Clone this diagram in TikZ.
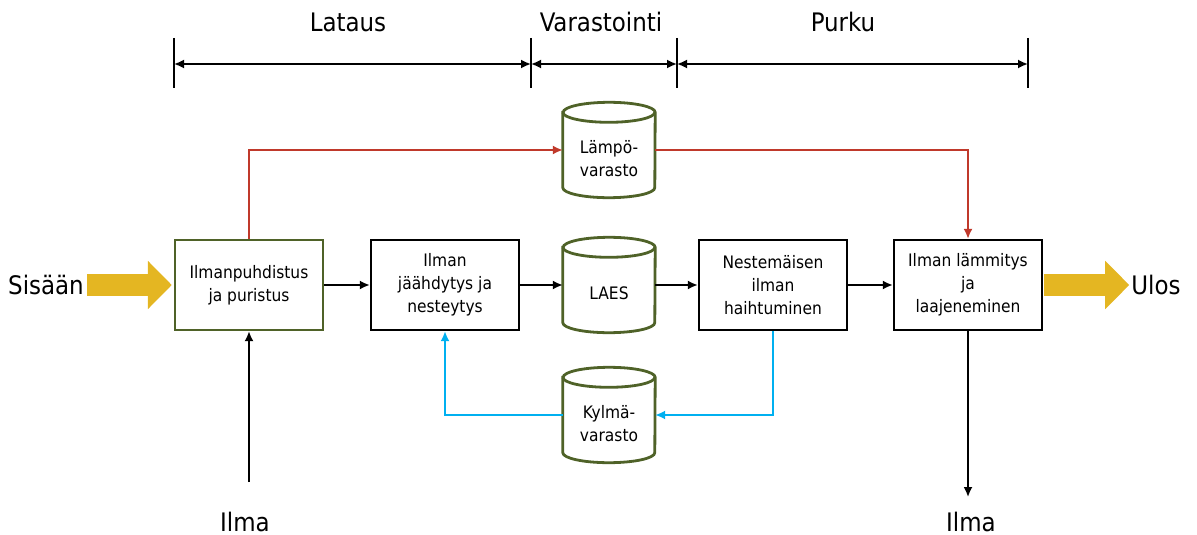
\documentclass[tikz,border=0pt]{standalone}
\usepackage{fontspec}
\setmainfont{DejaVu Sans Condensed}
\usetikzlibrary{arrows.meta,positioning,calc}
\definecolor{olivegreen}{HTML}{4F6228}
\definecolor{redline}{HTML}{C0392B}
\definecolor{blueline}{HTML}{00B0F0}
\definecolor{goldarrow}{HTML}{E4B622}
\tikzset{
  boxfont/.style={font=\fontsize{17.2}{23}\selectfont},
  procbox/.style={draw=black, line width=2.4pt, minimum width=148pt, minimum height=90pt, align=center, boxfont, inner sep=2pt},
  greenbox/.style={procbox, draw=olivegreen},
  cylarea/.style={minimum width=92pt, minimum height=95pt, inner sep=0pt},
  cylline/.style={draw=olivegreen, line width=2.8pt, fill=white},
  biglabel/.style={font=\fontsize{25.5}{28}\selectfont, inner sep=1pt},
  flow/.style={line width=1.8pt, -{Latex[length=10pt,width=9pt]}},
  redflow/.style={flow, draw=redline},
  blueflow/.style={flow, draw=blueline},
  phase/.style={line width=1.8pt, {Latex[length=10pt,width=9pt]}-{Latex[length=10pt,width=9pt]}},
  tick/.style={line width=1.8pt},
  bigarrow/.style={draw=goldarrow, line width=22pt, -{Triangle[length=24pt,width=47pt]}},
}
\newcommand{\cylinderat}[1]{%
  \path[cylline] ($(#1.north west)+(0,-10pt)$) -- ($(#1.south west)+(0,10pt)$)
     arc[start angle=180, end angle=360, x radius=46pt, y radius=10pt]
     -- ($(#1.north east)+(0,-10pt)$)
     arc[start angle=0, end angle=180, x radius=46pt, y radius=10pt] -- cycle;
  \draw[olivegreen, line width=2.8pt] ($(#1.north west)+(0,-10pt)$)
     arc[start angle=180, end angle=360, x radius=46pt, y radius=10pt];
}
\begin{document}
\begin{tikzpicture}[x=1pt,y=-1pt]
\useasboundingbox (0,0) rectangle (1197,535);

% phases
\coordinate (t1t) at (174,38); \coordinate (t1b) at (174,88);
\coordinate (t2t) at (531,38); \coordinate (t2b) at (531,88);
\coordinate (t3t) at (677,38); \coordinate (t3b) at (677,88);
\coordinate (t4t) at (1028,38); \coordinate (t4b) at (1028,88);
\draw[tick] (t1t) -- (t1b);
\draw[tick] (t2t) -- (t2b);
\draw[tick] (t3t) -- (t3b);
\draw[tick] (t4t) -- (t4b);
\coordinate (p1) at (174,64); \coordinate (p2) at (531,64);
\coordinate (p3) at (677,64); \coordinate (p4) at (1028,64);
\draw[phase] (p1) -- (p2);
\draw[phase] (p2) -- (p3);
\draw[phase] (p3) -- (p4);
\node[biglabel] (lataus) at (348,22) {Lataus};
\node[biglabel] (varastointi) at (601,22) {Varastointi};
\node[biglabel] (purku) at (843,22) {Purku};

% process boxes
\node[greenbox] (b1) at (249,285) {Ilmanpuhdistus\\ja puristus};
\node[procbox] (b2) at (445,285) {Ilman\\jäähdytys ja\\nesteytys};
\node[procbox] (b3) at (773,285) {Nestemäisen\\ilman\\haihtuminen};
\node[procbox] (b4) at (968,285) {Ilman lämmitys\\ja\\laajeneminen};

% cylinders
\node[cylarea] (laes) at (609,285) {};
\cylinderat{laes}
\node[boxfont] (laest) at (609,293) {LAES};
\node[cylarea] (lampo) at (609,150) {};
\cylinderat{lampo}
\node[align=center, boxfont] (lampot) at (609,159) {Lämpö-\\varasto};
\node[cylarea] (kylma) at (609,415) {};
\cylinderat{kylma}
\node[align=center, boxfont] (kylmat) at (609,424) {Kylmä-\\varasto};

% in/out
\node[biglabel] (sisaan) at (46,285) {Sisään};
\node[biglabel] (ulos) at (1156,285) {Ulos};
\draw[bigarrow, shorten <=2pt, shorten >=2pt] (sisaan.east) -- (b1.west);
\draw[bigarrow, shorten <=1pt, shorten >=1pt] (b4.east) -- (b4.east -| ulos.west);

\node[biglabel, anchor=base] (ilma1) at (245,531) {Ilma};
\node[biglabel, anchor=base] (ilma2) at (971,531) {Ilma};
\coordinate (a1) at (249,482);
\coordinate (a2) at (968,497);
\draw[flow] (a1) -- (b1.south);
\draw[flow] (b4.south) -- (a2);

% main flow
\draw[flow] (b1.east) -- (b2.west);
\draw[flow] (b2.east) -- (laes.west);
\draw[flow] (laes.east) -- (b3.west);
\draw[flow] (b3.east) -- (b4.west);

% heat
\draw[redflow] (b1.north) |- (lampo.west);
\draw[redflow] (lampo.east) -| (b4.north);

% cold
\draw[blueflow] (b3.south) |- (kylma.east);
\draw[blueflow] (kylma.west) -| (b2.south);
\end{tikzpicture}
\end{document}
